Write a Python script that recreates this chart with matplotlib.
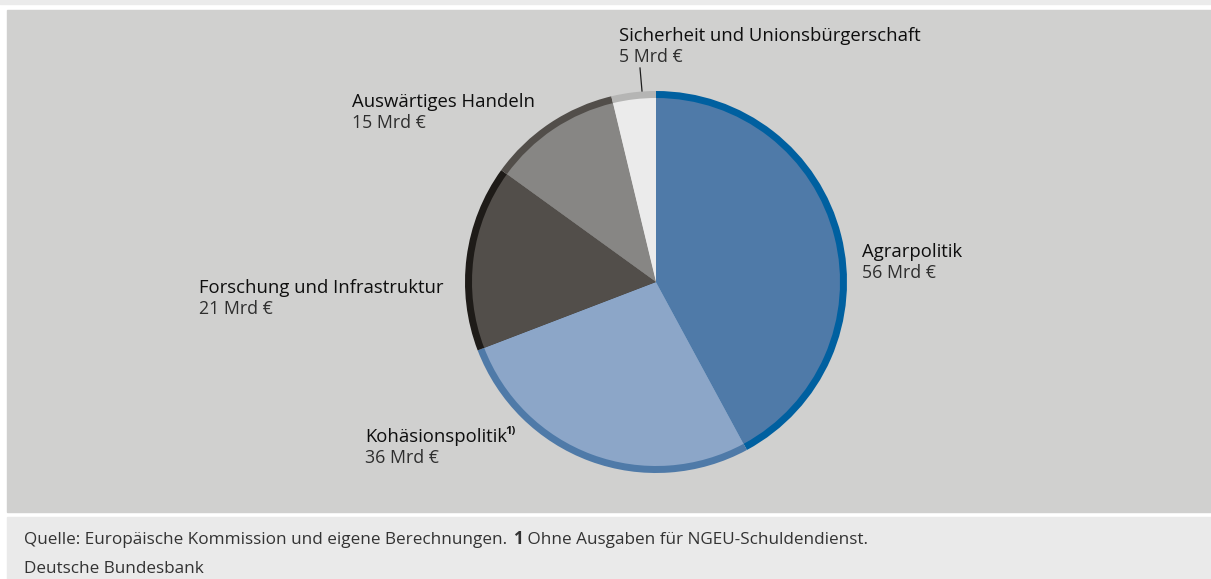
"""
EU-Haushalt: Ausgaben nach Politikbereichen (Kreisdiagramm)
"""
import matplotlib
matplotlib.use('Agg')
import matplotlib.pyplot as plt
from matplotlib.patches import Rectangle

plt.rcParams['font.family'] = ['Open Sans', 'DejaVu Sans']

# Daten (Mrd €), im Uhrzeigersinn ab 12 Uhr
labels = ['Agrarpolitik', 'Kohäsionspolitik', 'Forschung und Infrastruktur',
          'Auswärtiges Handeln', 'Sicherheit und Unionsbürgerschaft']
values = [56, 36, 21, 15, 5]
value_texts = ['56 Mrd €', '36 Mrd €', '21 Mrd €', '15 Mrd €', '5 Mrd €']

fill_colors = ['#4f7aa8', '#8ca6c8', '#524e4a', '#878684', '#ebebeb']
ring_colors = ['#0060a0', '#4f7aa8', '#1e1b18', '#524e4a', '#b5b5b4']

# Beschriftungspositionen (Pixel, Grundlinie der ersten Zeile)
label_pos = [(862, 257), (365, 442), (199, 293), (352, 107), (619, 41)]

W, H = 1211, 579
fig = plt.figure(figsize=(W / 100, H / 100), dpi=100)
fig.patch.set_facecolor('white')
ax = fig.add_axes([0, 0, 1, 1])
ax.set_xlim(0, W)
ax.set_ylim(H, 0)   # y nach unten wie im Bild
ax.axis('off')

# Hintergrundflächen
ax.add_patch(Rectangle((0, 0), W, 4, color='#ebebeb', zorder=0))
ax.add_patch(Rectangle((7, 10), W - 7, 502, color='#d0d0cf', zorder=0))
ax.add_patch(Rectangle((7, 517), W - 7, H - 517, color='#eaeaea', zorder=0))

center = (656, 282)
# bei umgedrehter y-Achse: startangle -90 = oben, counterclock=True = im Uhrzeigersinn
ax.pie(values, colors=ring_colors, radius=191, center=center, startangle=-90,
       counterclock=True, wedgeprops=dict(linewidth=0), frame=True)
ax.pie(values, colors=fill_colors, radius=184, center=center, startangle=-90,
       counterclock=True, wedgeprops=dict(linewidth=0), frame=True)
ax.set_xlim(0, W)
ax.set_ylim(H, 0)
ax.set_aspect('equal')
ax.axis('off')

# Hinweislinie Sicherheit
ax.plot([640, 642], [68, 91], color='#1e1e1e', lw=0.9)

fig.canvas.draw()
renderer = fig.canvas.get_renderer()
for lab, val, (x, y) in zip(labels, value_texts, label_pos):
    t = ax.text(x, y, lab, fontsize=13.3, color='#0e0e0e', va='baseline', ha='left')
    ax.text(x, y + 21, val, fontsize=12.8, color='#2e2e2e', va='baseline', ha='left')
    if lab == 'Kohäsionspolitik':
        bb = t.get_window_extent(renderer).transformed(ax.transData.inverted())
        ax.text(bb.x1 - 2, y - 8, '1)', fontsize=8, color='#161616',
                va='baseline', ha='left', fontweight='bold')

# Fußnote
parts = [('Quelle: Europäische Kommission und eigene Berechnungen. ', 'normal'),
         ('1', 'bold'), (' Ohne Ausgaben für NGEU-Schuldendienst.', 'normal')]
x = 24
for txt, wgt in parts:
    t = ax.text(x, 544, txt, fontsize=12.35, color='#333333', va='baseline',
                ha='left', fontweight=wgt)
    bb = t.get_window_extent(renderer).transformed(ax.transData.inverted())
    x = bb.x1 + 1
ax.text(24, 573, 'Deutsche Bundesbank', fontsize=12.35, color='#333333',
        va='baseline', ha='left')

fig.savefig('out.png', dpi=100, facecolor='white')
